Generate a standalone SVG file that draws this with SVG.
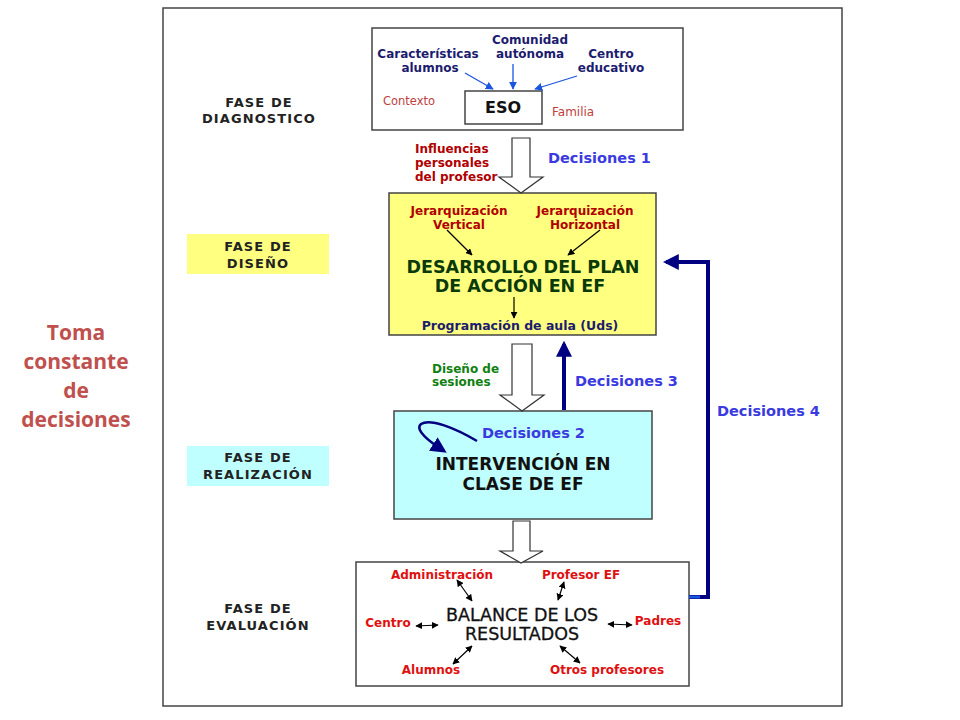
<svg xmlns="http://www.w3.org/2000/svg" width="960" height="720" viewBox="0 0 960 720">
<defs>
<marker id="ab" viewBox="0 0 10 10" refX="9" refY="5" markerWidth="8" markerHeight="8" orient="auto-start-reverse" markerUnits="userSpaceOnUse"><path d="M0,0 L10,5 L0,10 z" fill="#1a55e0"/></marker>
<marker id="ak" viewBox="0 0 10 10" refX="9" refY="5" markerWidth="7" markerHeight="7" orient="auto-start-reverse" markerUnits="userSpaceOnUse"><path d="M0,0 L10,5 L0,10 z" fill="#000"/></marker>
<marker id="an" viewBox="0 0 10 10" refX="8" refY="5" markerWidth="16" markerHeight="16" orient="auto" markerUnits="userSpaceOnUse"><path d="M0,0 L10,5 L0,10 z" fill="#000080"/></marker>
</defs>
<style>
text{font-family:"DejaVu Sans",Verdana,sans-serif}
.b{font-weight:bold}
.ph{font-size:13px;font-weight:bold;fill:#222;text-anchor:middle;letter-spacing:1.1px}
.nv{font-size:12px;font-weight:bold;fill:#1c1c6e;text-anchor:middle}
.rd{font-size:12px;font-weight:bold;fill:#e01010;text-anchor:middle}
.dr{font-size:12px;font-weight:bold;fill:#b00000}
.dec{font-size:14.5px;font-weight:bold;fill:#3a3ae0}
.tm{font-family:"Open Sans",sans-serif;font-size:21px;font-weight:bold;fill:#c0504d;text-anchor:middle}
.box{stroke:#444;stroke-width:1.5}
.hol{fill:#fff;stroke:#333;stroke-width:1.2}
.bl{stroke:#1a55e0;stroke-width:1.3;fill:none;marker-end:url(#ab)}
.bk{stroke:#000;stroke-width:1.2;fill:none;marker-end:url(#ak)}
.bk2{stroke:#000;stroke-width:1.2;fill:none;marker-end:url(#ak);marker-start:url(#ak)}
</style>
<rect width="960" height="720" fill="#fff"/>
<rect x="163" y="8" width="679" height="698" fill="none" stroke="#444" stroke-width="1.5"/>

<g id="side">
<text class="tm" x="76" y="340">Toma</text>
<text class="tm" x="76" y="369">constante</text>
<text class="tm" x="76" y="398">de</text>
<text class="tm" x="76" y="427">decisiones</text>
</g>

<g id="fase-diagnostico">
<text class="ph" x="259" y="107">FASE DE</text>
<text class="ph" x="259" y="123">DIAGNOSTICO</text>
</g>
<g id="fase-diseno">
<rect x="187" y="234" width="142" height="40" fill="#ffff80"/>
<text class="ph" x="258" y="251">FASE DE</text>
<text class="ph" x="258" y="268">DISEÑO</text>
</g>
<g id="fase-realizacion">
<rect x="187" y="446" width="142" height="40" fill="#c0ffff"/>
<text class="ph" x="258" y="462">FASE DE</text>
<text class="ph" x="258" y="479">REALIZACIÓN</text>
</g>
<g id="fase-evaluacion">
<text class="ph" x="258" y="613">FASE DE</text>
<text class="ph" x="258" y="630">EVALUACIÓN</text>
</g>

<g id="diagnostico">
<rect class="box" x="372" y="28" width="311" height="102" fill="#fff"/>
<text class="nv" x="428" y="58">Características</text>
<text class="nv" x="430" y="72">alumnos</text>
<text class="nv" x="530" y="44">Comunidad</text>
<text class="nv" x="530" y="58">autónoma</text>
<text class="nv" x="611" y="58">Centro</text>
<text class="nv" x="611" y="72">educativo</text>
<rect class="box" x="465" y="91" width="77" height="33" fill="#fff"/>
<text x="503" y="113" font-size="16" class="b" text-anchor="middle" fill="#111">ESO</text>
<text x="383" y="105" font-size="11.5" fill="#c04040">Contexto</text>
<text x="552" y="116" font-size="12" fill="#c04040">Familia</text>
</g>

<g id="diseno">
<rect class="box" x="389" y="193" width="267" height="142" fill="#ffff80" stroke="#5a7a2a"/>
<text class="dr" x="459" y="215" text-anchor="middle">Jerarquización</text>
<text class="dr" x="459" y="229" text-anchor="middle">Vertical</text>
<text class="dr" x="585" y="215" text-anchor="middle">Jerarquización</text>
<text class="dr" x="585" y="229" text-anchor="middle">Horizontal</text>
<text x="523" y="273" font-size="17.5" class="b" text-anchor="middle" fill="#0a3a0a">DESARROLLO DEL PLAN</text>
<text x="520" y="292" font-size="17.5" class="b" text-anchor="middle" fill="#0a3a0a">DE ACCIÓN EN EF</text>
<text x="520" y="330" font-size="12.5" class="b" text-anchor="middle" fill="#1c1c6e">Programación de aula (Uds)</text>
</g>

<g id="realizacion">
<rect class="box" x="394" y="411" width="258" height="108" fill="#c0ffff" stroke="#3a5a5a"/>
<text class="dec" x="482" y="438">Decisiones 2</text>
<text x="523" y="470" font-size="17" class="b" text-anchor="middle" fill="#111">INTERVENCIÓN EN</text>
<text x="523" y="490" font-size="17" class="b" text-anchor="middle" fill="#111">CLASE DE EF</text>
</g>

<g id="evaluacion">
<rect class="box" x="356" y="562" width="333" height="124" fill="#fff"/>
<text class="rd" x="442" y="579">Administración</text>
<text class="rd" x="581" y="579">Profesor EF</text>
<text class="rd" x="388" y="627">Centro</text>
<text class="rd" x="658" y="625">Padres</text>
<text class="rd" x="431" y="674">Alumnos</text>
<text class="rd" x="607" y="674">Otros profesores</text>
<text x="522" y="621" font-size="17.5" text-anchor="middle" fill="#111" stroke="#111" stroke-width="0.3">BALANCE DE LOS</text>
<text x="522" y="640" font-size="17.5" text-anchor="middle" fill="#111" stroke="#111" stroke-width="0.3">RESULTADOS</text>
</g>

<g id="labels">
<text class="dr" x="415" y="153">Influencias</text>
<text class="dr" x="415" y="167">personales</text>
<text class="dr" x="415" y="181">del profesor</text>
<text class="dec" x="548" y="163">Decisiones 1</text>
<text x="432" y="373" font-size="12" class="b" fill="#108010">Diseño de</text>
<text x="432" y="386" font-size="12" class="b" fill="#108010">sesiones</text>
<text class="dec" x="575" y="386">Decisiones 3</text>
<text class="dec" x="717" y="416">Decisiones 4</text>
</g>

<g id="connectors">
<line class="bl" x1="465" y1="73" x2="493" y2="89"/>
<line class="bl" x1="513" y1="64" x2="513" y2="89"/>
<line class="bl" x1="577" y1="76" x2="535" y2="89"/>
<polygon class="hol" points="512,138 530,138 530,177 543,177 521,193 499,177 512,177"/>
<polygon class="hol" points="512,344 532,344 532,395 544,395 522,411 500,395 512,395"/>
<polygon class="hol" points="513,521 530,521 530,551 543,551 521,563 500,551 513,551"/>
<line class="bk" x1="447" y1="230" x2="472" y2="255"/>
<line class="bk" x1="600" y1="230" x2="568" y2="255"/>
<line class="bk" x1="514" y1="297" x2="514" y2="318"/>
<line x1="564" y1="410" x2="564" y2="344" stroke="#000080" stroke-width="4" marker-end="url(#an)"/>
<path d="M477,441 C455,428 430,418 421,424 C414,430 430,442 444,451" fill="none" stroke="#000080" stroke-width="2.5" marker-end="url(#an)"/>
<polyline points="689,597 708,597 708,262 666,262" fill="none" stroke="#000080" stroke-width="4" marker-end="url(#an)"/>
<line x1="689" y1="597" x2="700" y2="597" stroke="#1a55e0" stroke-width="3"/>
<line class="bk2" x1="457" y1="580" x2="472" y2="601"/>
<line class="bk2" x1="564" y1="582" x2="558" y2="600"/>
<line class="bk2" x1="416" y1="626" x2="438" y2="625"/>
<line class="bk2" x1="608" y1="624" x2="632" y2="625"/>
<line class="bk2" x1="453" y1="664" x2="472" y2="646"/>
<line class="bk2" x1="560" y1="646" x2="580" y2="663"/>
</g>
</svg>
